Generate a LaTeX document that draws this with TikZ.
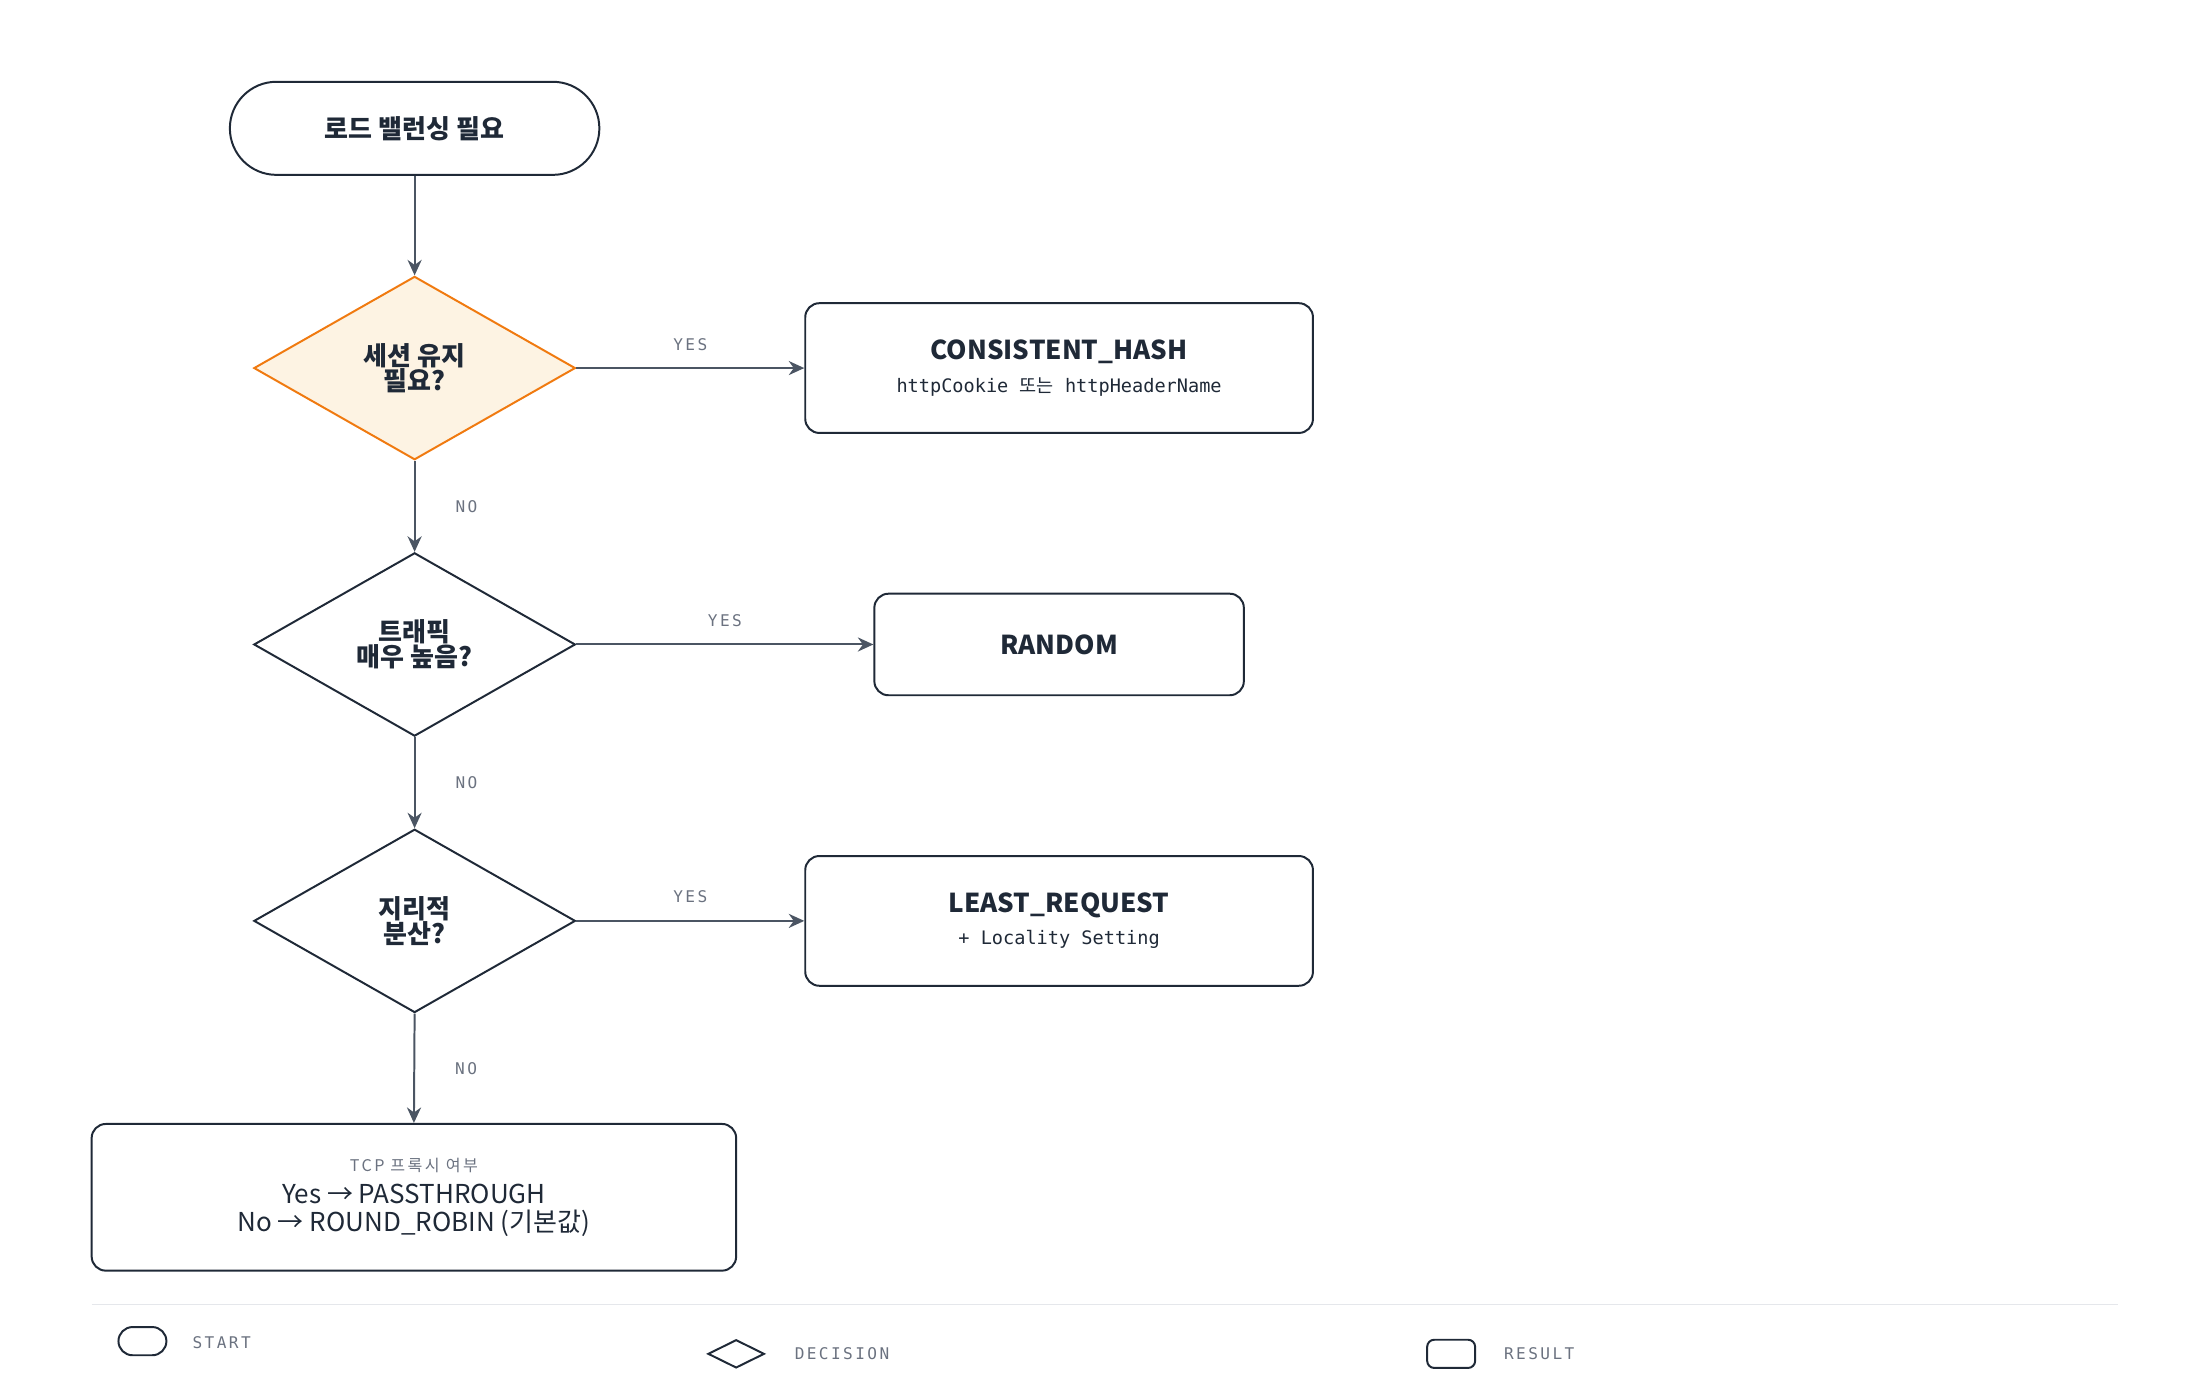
\documentclass[tikz,border=0pt]{standalone}
\usepackage{fontspec}
\setmainfont{Noto Sans CJK KR}
\setmonofont{DejaVu Sans Mono}
\newfontfamily\krfont{Noto Sans CJK KR}
\usetikzlibrary{shapes.geometric,arrows.meta}
\definecolor{ink}{HTML}{1F2937}
\definecolor{wire}{HTML}{4B5563}
\definecolor{muted}{HTML}{6B7280}
\definecolor{warm}{HTML}{F07A10}
\definecolor{warmfill}{HTML}{FDF3E3}
\definecolor{rule}{HTML}{E5E7EB}
\newcommand{\ttl}[1]{{\fontsize{10.5}{13}\selectfont\bfseries #1}}
\newcommand{\subl}[1]{{\fontsize{7.5}{9}\selectfont #1}}
\newcommand{\flab}[1]{{\fontsize{6.5}{8}\ttfamily\addfontfeature{LetterSpace=15}#1}}

\begin{document}
\begin{tikzpicture}[ x = 0.2mm, y = -0.2mm,
                     line width = 0.8pt, text = ink,
                     ask/.style={diamond,draw=ink,fill=white,inner sep=0pt,minimum width=45.6mm,minimum height=26mm,align=center},
                     res/.style={rectangle,rounded corners=2mm,draw=ink,align=center},
                     flow/.style={-{Stealth[length=2.2mm,width=2mm]},draw=wire,line width=0.8pt},
                     lab/.style={text=muted,font=\ttfamily},
                   ]
 \useasboundingbox (0,0) rectangle (1560,976);

 \draw (294,91)  node[draw=ink,rounded corners=6.6mm,minimum width=52.4mm,minimum height=13.2mm] (S)
              {\ttl{로드 밸런싱 필요}};

 \draw (294,261) node[ask,draw=warm,fill=warmfill] (D1)
              {\ttl{세션 유지}\\[-2pt] \ttl{필요?}};
 \draw (294,457) node[ask] (D2)
              {\ttl{트래픽}\\[-2pt] \ttl{매우 높음?}};
 \draw (294,653) node[ask] (D3)
              {\ttl{지리적}\\[-2pt] \ttl{분산?}};

 \draw (751,261) node[res,minimum width=72mm,minimum height=18.4mm] (R1)
              {\ttl{CONSISTENT\_HASH}\\[1pt] \subl{\ttfamily httpCookie {\krfont 또는} httpHeaderName}};
 \draw (751,457) node[res,minimum width=52.4mm,minimum height=14.4mm] (R2)
              {\ttl{RANDOM}};
 \draw (751,653) node[res,minimum width=72mm,minimum height=18.4mm] (R3)
              {\ttl{LEAST\_REQUEST}\\[1pt] \subl{\ttfamily + Locality Setting}};
 \draw (293.5,849) node[res,minimum width=91.4mm,minimum height=20.8mm] (R4)
              {{\fontsize{6.5}{8}\selectfont\color{muted}\addfontfeature{LetterSpace=15}TCP 프록시 여부}\\[1pt]
               {\fontsize{10.5}{13}\selectfont Yes → PASSTHROUGH}\\[-1pt]
               {\fontsize{10.5}{13}\selectfont No → ROUND\_ROBIN (기본값)}};

 \draw[flow] (S.south)  -- (D1.north);
 \draw[flow] (D1.east)  -- (R1.west) node[midway,above=1.2mm,lab] {\flab{YES}};
 \draw[flow] (D1.south) -- (D2.north) node[midway,right=4.5mm,lab] {\flab{NO}};
 \draw[flow] (D2.east)  -- (R2.west) node[midway,above=1.2mm,lab] {\flab{YES}};
 \draw[flow] (D2.south) -- (D3.north) node[midway,right=4.5mm,lab] {\flab{NO}};
 \draw[flow] (D3.east)  -- (R3.west) node[midway,above=1.2mm,lab] {\flab{YES}};
 \draw[flow] (D3.south) -- (R4.north) node[midway,right=4.5mm,lab] {\flab{NO}};

 % legend
 \draw[rule,line width=0.6pt] (65,925) -- (1502,925);
 \draw (101,951) node[draw=ink,rounded corners=2mm,minimum width=6.8mm,minimum height=4mm,inner sep=0pt] (LS) {};
 \draw (130,952) node[anchor=west,lab] (LSt) {\flab{START}};
 \draw (522,960) node[diamond,draw=ink,inner sep=0pt,minimum width=8mm,minimum height=4mm] (LD) {};
 \draw (557,960) node[anchor=west,lab] (LDt) {\flab{DECISION}};
 \draw (1029,960) node[draw=ink,rounded corners=1mm,minimum width=6.8mm,minimum height=4mm,inner sep=0pt] (LR) {};
 \draw (1060,960) node[anchor=west,lab] (LRt) {\flab{RESULT}};

\end{tikzpicture}
\end{document}
